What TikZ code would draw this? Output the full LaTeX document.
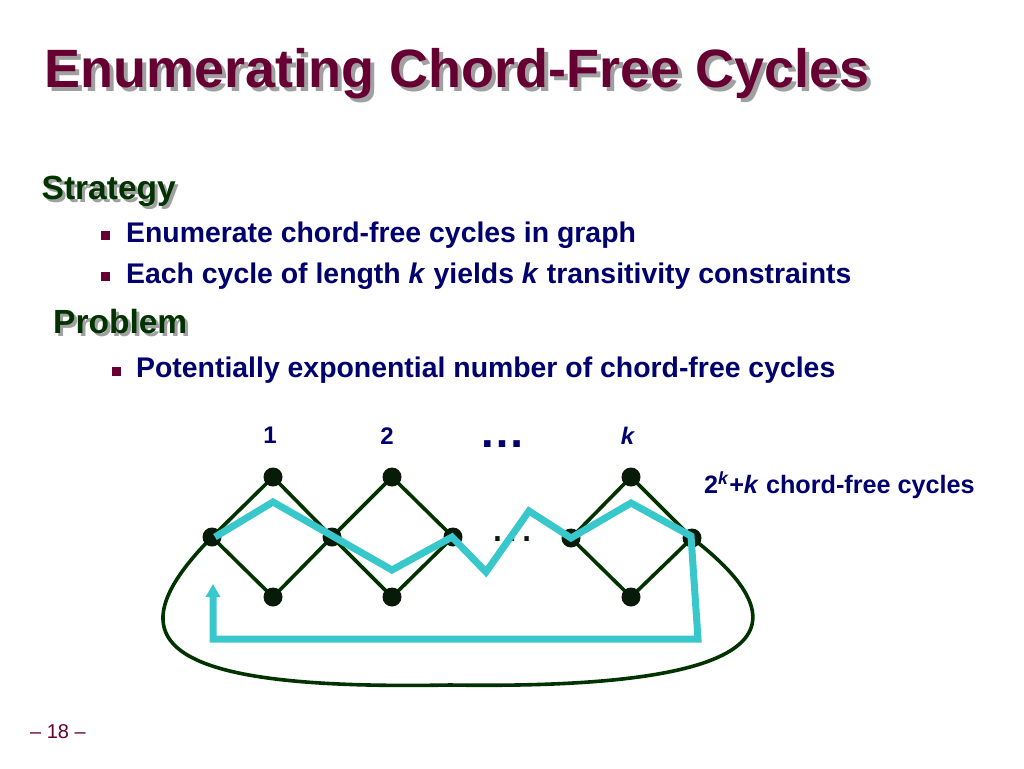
\documentclass[tikz,border=0pt]{standalone}
\usepackage{fontspec}
\setmainfont{Liberation Sans}
\usetikzlibrary{arrows.meta}
\definecolor{maroon}{RGB}{102,0,51}
\definecolor{dgreen}{RGB}{0,51,0}
\definecolor{navy}{RGB}{0,0,110}
\definecolor{shadowgray}{RGB}{160,160,160}
\definecolor{cyanline}{RGB}{56,200,204}
\definecolor{vertex}{RGB}{8,26,8}
\tikzset{
  txt/.style={inner sep=0pt, anchor=base west},
  titletxt/.style={txt, font=\fontsize{54}{60}\selectfont\bfseries},
  headtxt/.style={txt, font=\fontsize{33.5}{38}\selectfont\bfseries},
  bullettxt/.style={txt, navy, font=\fontsize{28.4}{34}\selectfont\bfseries},
  bulletbox/.style={fill=maroon, minimum size=9pt, inner sep=0pt},
  lbl/.style={inner sep=0pt, anchor=base, navy, font=\fontsize{24}{28}\selectfont\bfseries},
  vtx/.style={circle, fill=vertex, minimum size=19pt, inner sep=0pt},
  edge/.style={draw=dgreen, line width=3.6pt},
  cyc/.style={draw=cyanline, line width=7pt},
}
\begin{document}
\begin{tikzpicture}[x=1pt,y=-1pt]
\useasboundingbox[fill=white] (0,0) rectangle (1024,768);
% title
\node[titletxt, shadowgray] (titles) at (48,91) {Enumerating Chord-Free Cycles};
\node[titletxt, maroon] (title) at (44,87) {Enumerating Chord-Free Cycles};
% headings
\node[headtxt, shadowgray] (strats) at (44.5,202.5) {Strategy};
\node[headtxt, dgreen] (strat) at (41.5,199.5) {Strategy};
\node[headtxt, shadowgray] (probs) at (56,336) {Problem};
\node[headtxt, dgreen] (prob) at (53,333) {Problem};
% bullets
\node[bulletbox] (b1) at (105,235) {};
\node[bullettxt] (t1) at (126,242) {Enumerate chord-free cycles in graph};
\node[bulletbox] (b2) at (105,276) {};
\node[bullettxt] (t2) at (126,283) {Each cycle of length \textit{k} yields \textit{k} transitivity constraints};
\node[bulletbox] (b3) at (116,371) {};
\node[bullettxt] (t3) at (136,377) {Potentially exponential number of chord-free cycles};
% labels
\node[lbl] (l1) at (270,443.5) {1};
\node[lbl] (l2) at (387,444) {2};
\node[lbl] (ldots) at (502,447) {\fontsize{46}{50}\selectfont …};
\node[lbl] (lk) at (628,444) {\textit{k}};
\node[txt, navy, font=\fontsize{25.2}{28}\selectfont\bfseries] (count) at (704,493.5) {2\textsuperscript{\textit{k}}+\textit{k} chord-free cycles};
% page number
\node[txt, maroon, font=\fontsize{20}{24}\selectfont] (page) at (30,738) {– 18 –};
% graph vertices
\coordinate (T1) at (273,477);
\coordinate (T2) at (392,477);
\coordinate (TK) at (631,477);
\coordinate (M1) at (212,537);
\coordinate (M2) at (332,537);
\coordinate (M3) at (453,537);
\coordinate (M4) at (571,538);
\coordinate (M5) at (692,538);
\coordinate (B1) at (273,597);
\coordinate (B2) at (392,597);
\coordinate (BK) at (631,597);
% edges
\path[edge] (M1) -- (T1) -- (M2) -- (B1) -- cycle;
\path[edge] (M2) -- (T2) -- (M3) -- (B2) -- cycle;
\path[edge] (M4) -- (TK) -- (M5) -- (BK) -- cycle;
\path[edge] (M1) .. controls (100,650) and (180,690) .. (450,685)
               .. controls (780,690) and (805,625) .. (M5);
% vertices
\foreach \v in {T1,T2,TK,M1,M2,M3,M4,M5,B1,B2,BK}
  \node[vtx] (n\v) at (\v) {};
\node[inner sep=0pt, anchor=base, vertex, font=\fontsize{46}{50}\selectfont] (mdots) at (512,541.5) {…};
% cycle
\coordinate (c1) at (215,537);
\path[cyc, -{Triangle[width=14pt,length=13pt]}]
  (c1) -- (273,502) -- (392,570) -- (452,537) -- (486,572) -- (529,511)
  -- (571,538) -- (631,503) -- (691,536) -- (698,639) -- (213,639) -- (213,584);
\end{tikzpicture}
\end{document}
